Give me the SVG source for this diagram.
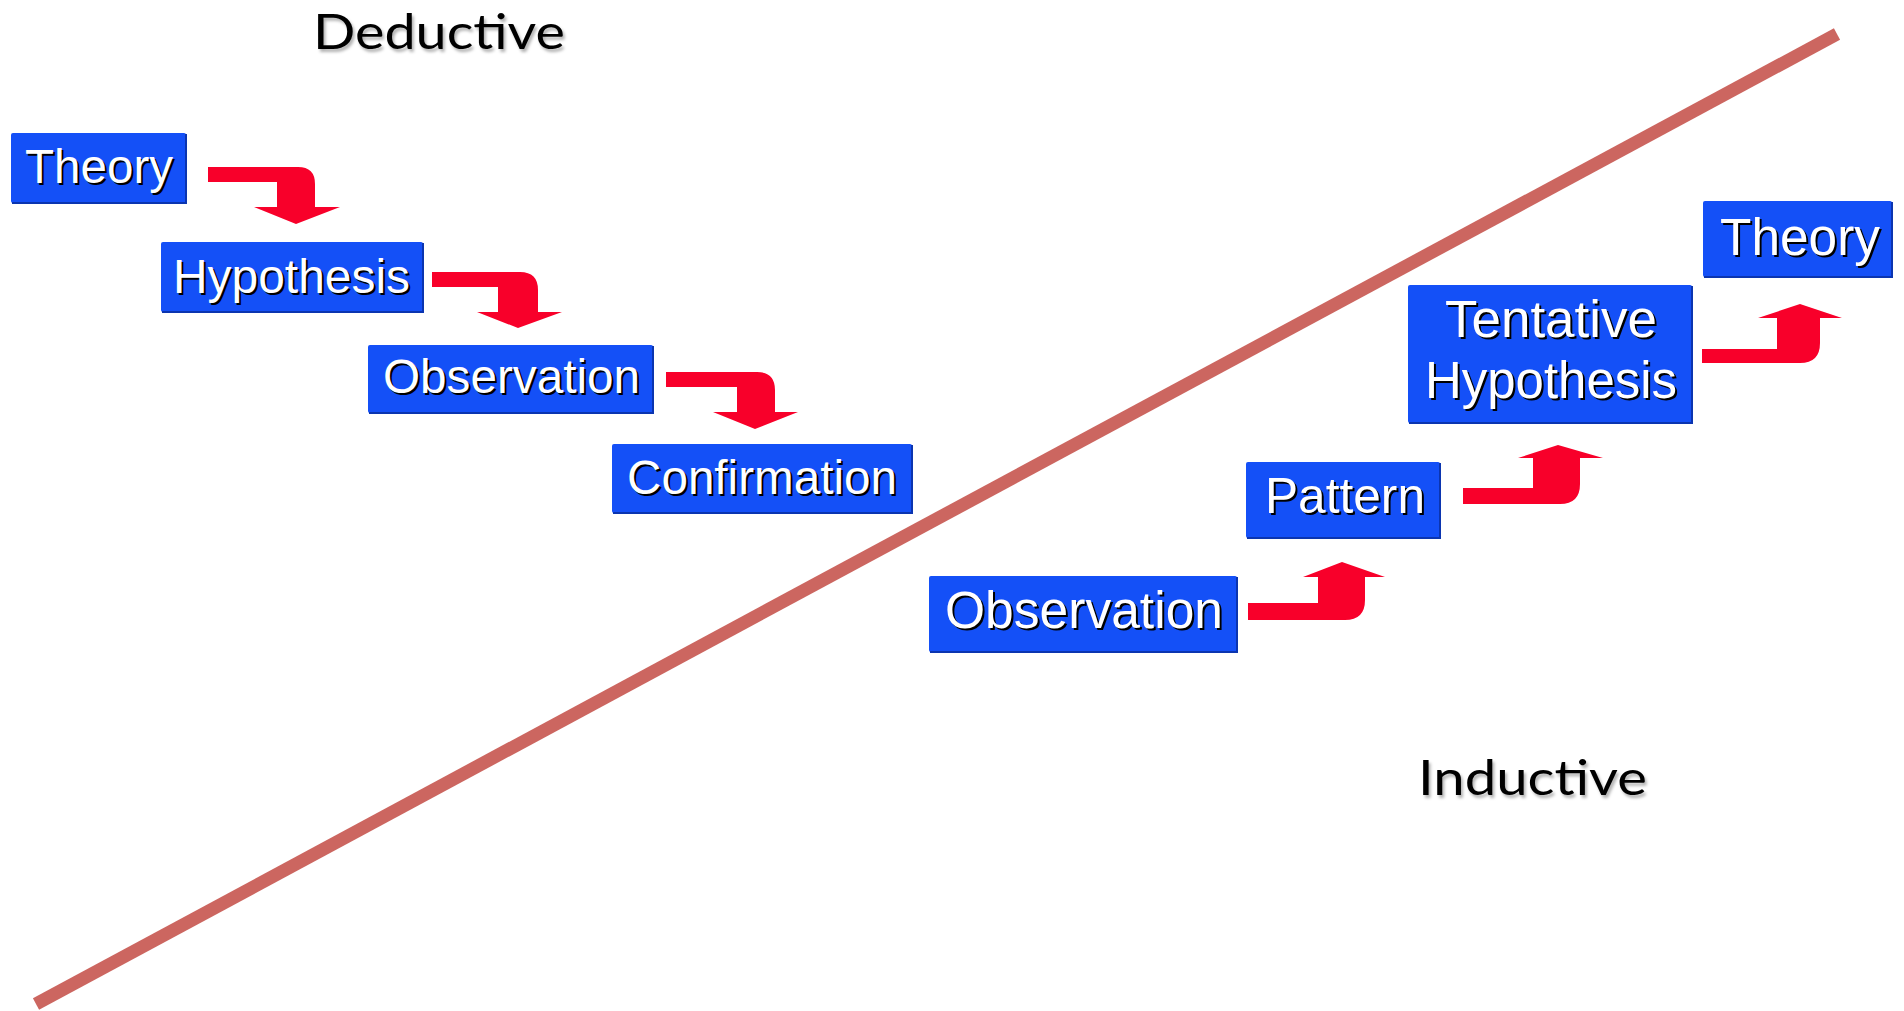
<svg xmlns="http://www.w3.org/2000/svg" width="1904" height="1011" viewBox="0 0 1904 1011">
  <defs>
    <style>
      .box { fill: #1450F7; }
      .edge { fill: none; stroke: #0B35B0; stroke-width: 2; }
      .lbl { font-family: "Liberation Sans", Arial, sans-serif; fill: #FFFFFF; }
      .sh { font-family: "Liberation Sans", Arial, sans-serif; fill: #000000; }
      .arrow { fill: #F8002A; }
      .side { font-family: Lato, "Liberation Sans", sans-serif; font-size: 48px; fill: #000000; filter: url(#soft); }
    </style>
    <filter id="soft" x="-10%" y="-20%" width="130%" height="160%">
      <feDropShadow dx="2" dy="3" stdDeviation="1.5" flood-color="#000000" flood-opacity="0.3"/>
    </filter>
  </defs>

  <rect width="1904" height="1011" fill="#FFFFFF"/>

  <!-- dividing line -->
  <line id="divider" x1="36" y1="1004" x2="1837" y2="34" stroke="#CC6660" stroke-width="13"/>

  <text class="side" x="313" y="49" textLength="252" lengthAdjust="spacingAndGlyphs">Deductive</text>
  <text class="side" x="1418" y="795" textLength="229" lengthAdjust="spacingAndGlyphs">Inductive</text>

  <!-- Deductive nodes -->
  <g id="d-theory">
    <rect class="box" x="11" y="133" width="175" height="70" rx="2"/>
    <path class="edge" d="M12,203 H186 V134"/>
    <text class="sh" x="27" y="185" font-size="48" textLength="148" lengthAdjust="spacingAndGlyphs">Theory</text>
    <text class="lbl" x="25" y="183" font-size="48" textLength="148" lengthAdjust="spacingAndGlyphs">Theory</text>
  </g>
  <g id="d-hypothesis">
    <rect class="box" x="161" y="242" width="262" height="70" rx="2"/>
    <path class="edge" d="M162,312 H423 V243"/>
    <text class="sh" x="175" y="295" font-size="48" textLength="237" lengthAdjust="spacingAndGlyphs">Hypothesis</text>
    <text class="lbl" x="173" y="293" font-size="48" textLength="237" lengthAdjust="spacingAndGlyphs">Hypothesis</text>
  </g>
  <g id="d-observation">
    <rect class="box" x="368" y="345" width="285" height="68" rx="2"/>
    <path class="edge" d="M369,413 H653 V346"/>
    <text class="sh" x="385" y="395" font-size="48" textLength="257" lengthAdjust="spacingAndGlyphs">Observation</text>
    <text class="lbl" x="383" y="393" font-size="48" textLength="257" lengthAdjust="spacingAndGlyphs">Observation</text>
  </g>
  <g id="d-confirmation">
    <rect class="box" x="612" y="444" width="300" height="69" rx="2"/>
    <path class="edge" d="M613,513 H912 V445"/>
    <text class="sh" x="629" y="496" font-size="48" textLength="270" lengthAdjust="spacingAndGlyphs">Confirmation</text>
    <text class="lbl" x="627" y="494" font-size="48" textLength="270" lengthAdjust="spacingAndGlyphs">Confirmation</text>
  </g>

  <!-- Inductive nodes -->
  <g id="i-observation">
    <rect class="box" x="929" y="576" width="308" height="76" rx="2"/>
    <path class="edge" d="M930,652 H1237 V577"/>
    <text class="sh" x="947" y="630" font-size="51" textLength="278" lengthAdjust="spacingAndGlyphs">Observation</text>
    <text class="lbl" x="945" y="628" font-size="51" textLength="278" lengthAdjust="spacingAndGlyphs">Observation</text>
  </g>
  <g id="i-pattern">
    <rect class="box" x="1246" y="462" width="194" height="76" rx="2"/>
    <path class="edge" d="M1247,538 H1440 V463"/>
    <text class="sh" x="1267" y="515" font-size="50" textLength="160" lengthAdjust="spacingAndGlyphs">Pattern</text>
    <text class="lbl" x="1265" y="513" font-size="50" textLength="160" lengthAdjust="spacingAndGlyphs">Pattern</text>
  </g>
  <g id="i-tentative">
    <rect class="box" x="1408" y="285" width="284" height="138" rx="2"/>
    <path class="edge" d="M1409,423 H1692 V286"/>
    <text class="sh" x="1447" y="339" font-size="51" textLength="212" lengthAdjust="spacingAndGlyphs">Tentative</text>
    <text class="lbl" x="1445" y="337" font-size="51" textLength="212" lengthAdjust="spacingAndGlyphs">Tentative</text>
    <text class="sh" x="1427" y="400" font-size="51" textLength="252" lengthAdjust="spacingAndGlyphs">Hypothesis</text>
    <text class="lbl" x="1425" y="398" font-size="51" textLength="252" lengthAdjust="spacingAndGlyphs">Hypothesis</text>
  </g>
  <g id="i-theory">
    <rect class="box" x="1703" y="201" width="189" height="76" rx="2"/>
    <path class="edge" d="M1704,277 H1892 V202"/>
    <text class="sh" x="1722" y="257" font-size="51" textLength="160" lengthAdjust="spacingAndGlyphs">Theory</text>
    <text class="lbl" x="1720" y="255" font-size="51" textLength="160" lengthAdjust="spacingAndGlyphs">Theory</text>
  </g>

  <!-- connectors -->
  <g id="connectors">
    <path class="arrow" d="M208,167 H298 Q315,167 315,184 V207 H340 L296,224 L254,207 H277 V182 H208 Z"/>
    <path class="arrow" d="M432,272 H520 Q538,272 538,290 V312 H562 L518,328 L477,312 H498 V287 H432 Z"/>
    <path class="arrow" d="M666,372 H757 Q775,372 775,390 V412 H798 L755,429 L713,412 H737 V387 H666 Z"/>
    <path class="arrow" d="M1248,603 H1318 V577 H1303 L1342,562 L1385,577 H1365 V600 Q1365,620 1345,620 H1248 Z"/>
    <path class="arrow" d="M1463,488 H1533 V458 H1518 L1558,445 L1603,458 H1580 V484 Q1580,504 1560,504 H1463 Z"/>
    <path class="arrow" d="M1702,349 H1777 V318 H1758 L1800,304 L1842,318 H1820 V343 Q1820,363 1800,363 H1702 Z"/>
  </g>
</svg>
